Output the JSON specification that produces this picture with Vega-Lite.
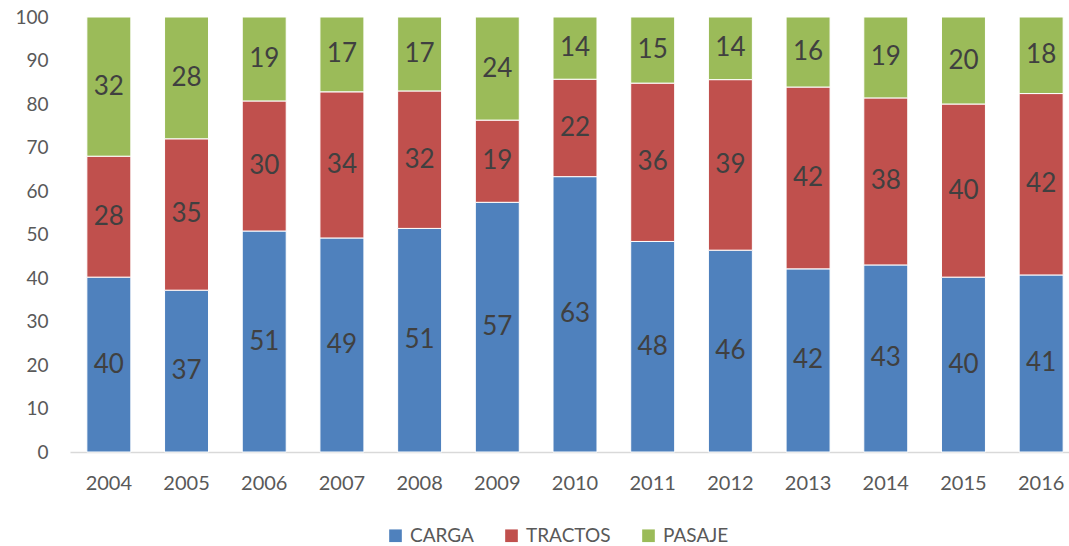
{
  "$schema": "https://vega.github.io/schema/vega-lite/v6.json",
  "width": 1010,
  "height": 435,
  "autosize": {"type": "none"},
  "padding": {"left": 70, "top": 17, "right": 0, "bottom": 94},
  "background": "white",
  "config": {"view": {"stroke": null}, "font": "Lato"},
  "data": {"values": [
    {"year": "2004", "tipo": "CARGA", "valor": 40.2}, {"year": "2004", "tipo": "TRACTOS", "valor": 27.8}, {"year": "2004", "tipo": "PASAJE", "valor": 32.0},
    {"year": "2005", "tipo": "CARGA", "valor": 37.2}, {"year": "2005", "tipo": "TRACTOS", "valor": 34.8}, {"year": "2005", "tipo": "PASAJE", "valor": 28.0},
    {"year": "2006", "tipo": "CARGA", "valor": 50.8}, {"year": "2006", "tipo": "TRACTOS", "valor": 29.9}, {"year": "2006", "tipo": "PASAJE", "valor": 19.3},
    {"year": "2007", "tipo": "CARGA", "valor": 49.2}, {"year": "2007", "tipo": "TRACTOS", "valor": 33.6}, {"year": "2007", "tipo": "PASAJE", "valor": 17.2},
    {"year": "2008", "tipo": "CARGA", "valor": 51.4}, {"year": "2008", "tipo": "TRACTOS", "valor": 31.6}, {"year": "2008", "tipo": "PASAJE", "valor": 17.0},
    {"year": "2009", "tipo": "CARGA", "valor": 57.4}, {"year": "2009", "tipo": "TRACTOS", "valor": 18.9}, {"year": "2009", "tipo": "PASAJE", "valor": 23.7},
    {"year": "2010", "tipo": "CARGA", "valor": 63.3}, {"year": "2010", "tipo": "TRACTOS", "valor": 22.4}, {"year": "2010", "tipo": "PASAJE", "valor": 14.3},
    {"year": "2011", "tipo": "CARGA", "valor": 48.4}, {"year": "2011", "tipo": "TRACTOS", "valor": 36.4}, {"year": "2011", "tipo": "PASAJE", "valor": 15.2},
    {"year": "2012", "tipo": "CARGA", "valor": 46.4}, {"year": "2012", "tipo": "TRACTOS", "valor": 39.2}, {"year": "2012", "tipo": "PASAJE", "valor": 14.4},
    {"year": "2013", "tipo": "CARGA", "valor": 42.1}, {"year": "2013", "tipo": "TRACTOS", "valor": 41.8}, {"year": "2013", "tipo": "PASAJE", "valor": 16.1},
    {"year": "2014", "tipo": "CARGA", "valor": 43.0}, {"year": "2014", "tipo": "TRACTOS", "valor": 38.4}, {"year": "2014", "tipo": "PASAJE", "valor": 18.6},
    {"year": "2015", "tipo": "CARGA", "valor": 40.2}, {"year": "2015", "tipo": "TRACTOS", "valor": 39.8}, {"year": "2015", "tipo": "PASAJE", "valor": 20.0},
    {"year": "2016", "tipo": "CARGA", "valor": 40.7}, {"year": "2016", "tipo": "TRACTOS", "valor": 41.7}, {"year": "2016", "tipo": "PASAJE", "valor": 17.6}
  ]},
  "transform": [
    {"calculate": "indexof(['CARGA','TRACTOS','PASAJE'], datum.tipo)", "as": "orden"},
    {"stack": "valor", "groupby": ["year"], "sort": [{"field": "orden", "order": "ascending"}], "as": ["v0", "v1"]},
    {"calculate": "(datum.v0 + datum.v1) / 2", "as": "mid"}
  ],
  "encoding": {
    "x": {
      "field": "year", "type": "nominal", "title": null,
      "scale": {"paddingInner": 0.434, "paddingOuter": 0.217},
      "axis": {"labelAngle": 0, "labelFontSize": 20, "labelColor": "#595959", "labelPadding": 21, "ticks": false, "domainColor": "#D9D9D9", "domainWidth": 1.5}
    }
  },
  "layer": [
    {
      "mark": {"type": "bar", "stroke": "white", "strokeWidth": 1},
      "encoding": {
        "y": {"field": "v1", "type": "quantitative", "title": null,
          "scale": {"domain": [0, 100], "nice": false},
          "axis": {"values": [0,10,20,30,40,50,60,70,80,90,100], "labelFontSize": 19, "labelColor": "#595959", "labelPadding": 22, "ticks": false, "domain": false, "grid": false}},
        "y2": {"field": "v0"},
        "color": {
          "field": "tipo", "type": "nominal",
          "scale": {"domain": ["CARGA", "TRACTOS", "PASAJE"], "range": ["#4F81BD", "#C0504D", "#9BBB59"]},
          "legend": {"title": null, "orient": "none", "direction": "horizontal", "legendX": 316, "legendY": 509,
            "symbolType": "square", "symbolSize": 160, "symbolStrokeWidth": 0, "labelFontSize": 19, "labelColor": "#595959", "columnPadding": 28, "labelOffset": 5}
        }
      }
    },
    {
      "mark": {"type": "text", "fontSize": 26, "color": "#404040", "baseline": "middle", "align": "center"},
      "encoding": {
        "y": {"field": "mid", "type": "quantitative"},
        "text": {"field": "valor", "type": "quantitative", "format": ".0f"}
      }
    }
  ]
}
